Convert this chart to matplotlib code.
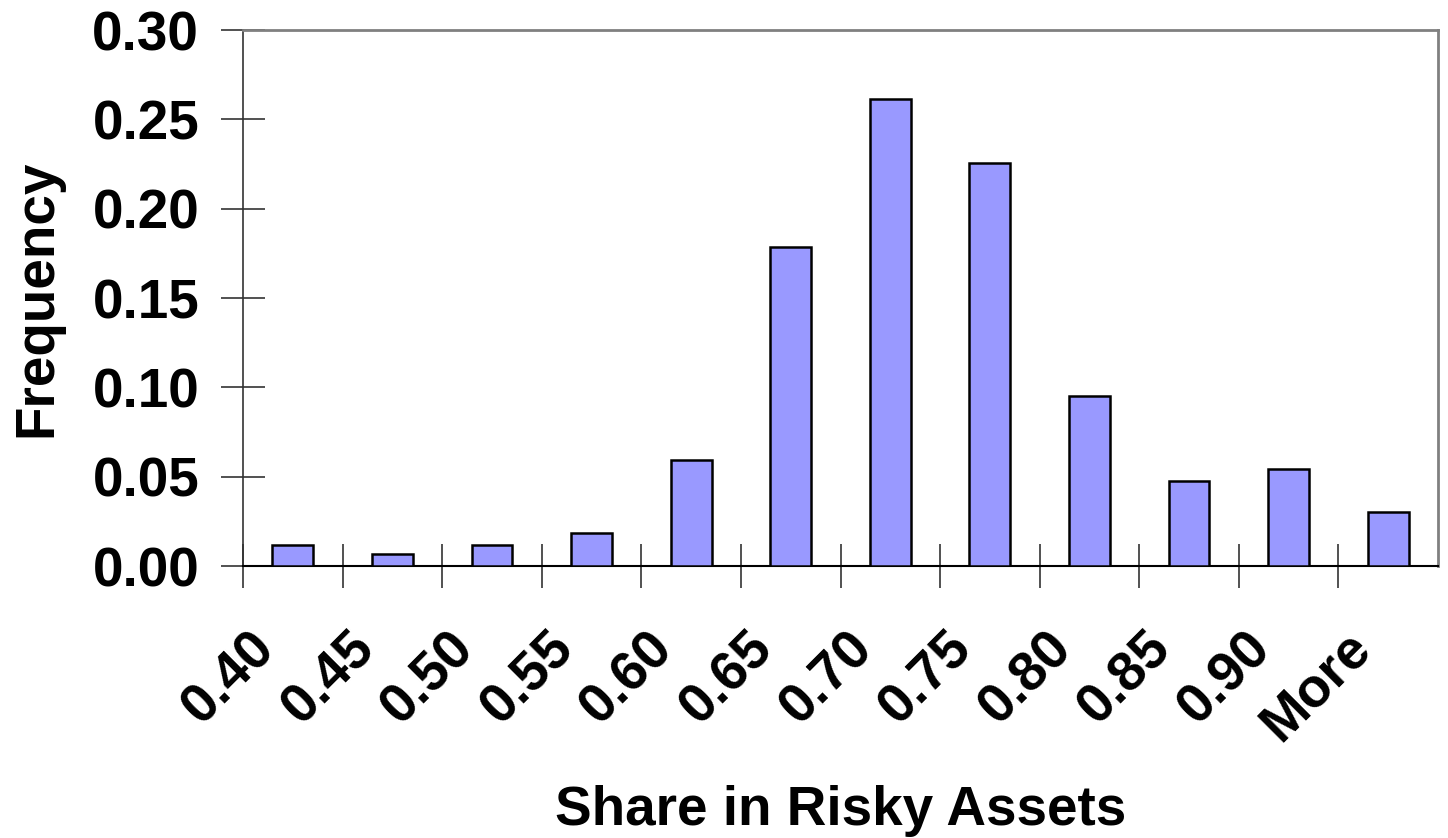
import matplotlib
matplotlib.use("Agg")
import matplotlib.pyplot as plt
import matplotlib.transforms as mtransforms
import numpy as np

bins = ['0.40', '0.45', '0.50', '0.55', '0.60', '0.65', '0.70', '0.75',
        '0.80', '0.85', '0.90', 'More']
freq = [0.0118, 0.0067, 0.0118, 0.0185, 0.0593, 0.1785, 0.2615, 0.2257,
        0.0951, 0.0476, 0.0543, 0.0305]
yticks = [0.00, 0.05, 0.10, 0.15, 0.20, 0.25, 0.30]

plt.rcParams['font.family'] = ['Liberation Sans', 'DejaVu Sans']
plt.rcParams['font.weight'] = 'bold'
FS = 39.5

fig = plt.figure(figsize=(14.48, 8.38), dpi=100)
ax = fig.add_axes([243 / 1448, 1 - 566 / 838, 1195 / 1448, 536 / 838])

x = np.arange(len(bins))
ax.bar(x, freq, width=0.41, color='#9999FF', edgecolor='black', linewidth=1.8,
       zorder=3)

ax.set_xlim(-0.5, len(bins) - 0.5)
ax.set_ylim(0, 0.30)

# category boundary ticks (Excel style) on the x axis
ax.set_xticks(x - 0.5, minor=False)
ax.set_xticklabels([])
ax.set_xticks(x, minor=True)
ax.set_xticklabels(bins, minor=True, rotation=45, ha='right', va='top',
                   rotation_mode='anchor', fontsize=FS, fontweight='bold')
ax.tick_params(axis='x', which='major', direction='inout', length=32,
               width=1.2, color='#333333')
ax.tick_params(axis='x', which='minor', length=0, pad=40)
offset = mtransforms.ScaledTranslation(-44 / 100, 0, fig.dpi_scale_trans)
for lbl in ax.get_xticklabels(minor=True):
    lbl.set_transform(lbl.get_transform() + offset)

ax.set_yticks(yticks)
ax.set_yticklabels(['%.2f' % v for v in yticks], fontsize=FS,
                   fontweight='bold')
ax.tick_params(axis='y', direction='inout', length=32, width=1.2,
               color='#333333', pad=15.5)

for side in ['top', 'right']:
    ax.spines[side].set_color('#808080')
    ax.spines[side].set_linewidth(2)
ax.spines['left'].set_color('#333333')
ax.spines['left'].set_linewidth(1.2)
ax.spines['bottom'].set_color('black')
ax.spines['bottom'].set_linewidth(1.5)

ax.set_xlabel('Share in Risky Assets', fontsize=FS, fontweight='bold')
ax.xaxis.set_label_coords(0.5, -0.408)
ax.set_ylabel('Frequency', fontsize=FS, fontweight='bold')
ax.yaxis.set_label_coords(-0.15, 0.5)

fig.savefig('out.png', dpi=100)
